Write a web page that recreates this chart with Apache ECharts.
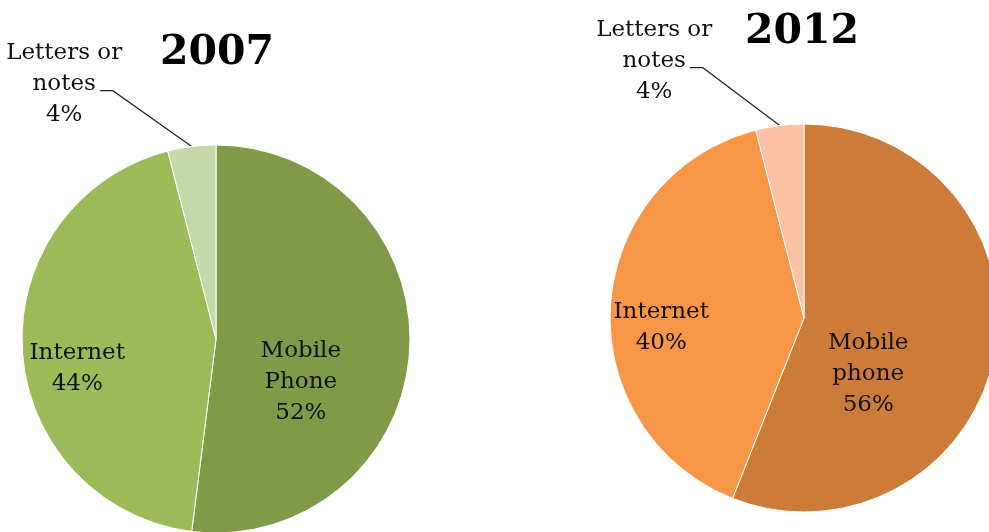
<!DOCTYPE html>
<html>
<head>
<meta charset="utf-8">
<script src="https://cdn.jsdelivr.net/npm/echarts@6/dist/echarts.min.js"></script>
<style>
  html, body { margin: 0; padding: 0; background: #fff; }
  #charts { width: 989px; height: 532px; }
</style>
</head>
<body>
<div id="charts"></div>
<script>
// data
const categories = ['Mobile Phone', 'Internet', 'Letters or notes']
const labels2007 = ['Mobile\nPhone', 'Internet', 'Letters or\nnotes']
const labels2012 = ['Mobile\nphone', 'Internet', 'Letters or\nnotes']
const values2007 = [52, 44, 4]
const values2012 = [56, 40, 4]
const years = ['2007', '2012']

const colors2007 = ['#7F9B48', '#9BBB59', '#C5D8A9']
const colors2012 = ['#CC7B38', '#F79646', '#FAC1A3']

const font = '"DejaVu Serif", "Liberation Serif", serif'
const labelSize = 23

// label nudges, [dx, dy] per slice
const nudge2007 = [[-15, 37], [-39, 23], [-106, -43]]
const nudge2012 = [[-34, 37], [-43, 16], [-104, -45]]

// width of the text line that the leader line points at
const ctx = document.createElement('canvas').getContext('2d')
ctx.font = labelSize + 'px ' + font
const notesWidth = ctx.measureText('notes').width

function buildData(values, names, colors) {
    return values.map((v, i) => ({
        value: v,
        name: names[i],
        itemStyle: { color: colors[i] },
        label: i === 2 ? { position: 'outside' } : { position: 'inside' },
        labelLine: { show: i === 2 }
    }))
}

function pieSeries(values, names, colors, center, nudge) {
    return {
        type: 'pie',
        radius: 194,
        center: center,
        startAngle: 90,
        clockwise: true,
        avoidLabelOverlap: false,
        animation: false,
        itemStyle: { borderColor: '#fff', borderWidth: 1 },
        label: {
            show: true,
            color: '#111',
            fontFamily: font,
            fontSize: labelSize,
            lineHeight: 31,
            align: 'center',
            formatter: p => p.name + '\n' + p.value + '%'
        },
        labelLine: {
            show: true,
            length: 20,
            length2: 14,
            lineStyle: { color: '#262626', width: 1.2 }
        },
        labelLayout: p => {
            const d = nudge[p.dataIndex]
            const o = { dx: d[0], dy: d[1] }
            if (p.dataIndex === 2 && p.labelLinePoints) {
                // centre the outside label and redraw its leader line
                o.align = 'center'
                const r = p.labelRect
                const cx = r.x + r.width + d[0]
                const ly = r.y + r.height / 2 + d[1] + 7
                const right = cx + notesWidth / 2
                o.labelLinePoints = [p.labelLinePoints[0], [right + 17, ly], [right + 4, ly]]
            }
            return o
        },
        emphasis: { disabled: true },
        data: buildData(values, names, colors)
    }
}

const option = {
    title: [
        { text: years[0], left: 212, top: 28, textAlign: 'center',
          textStyle: { fontFamily: font, fontWeight: 'bold', fontSize: 41, color: '#000' } },
        { text: years[1], left: 797, top: 7, textAlign: 'center',
          textStyle: { fontFamily: font, fontWeight: 'bold', fontSize: 41, color: '#000' } }
    ],
    series: [
        pieSeries(values2007, labels2007, colors2007, [216, 339], nudge2007),
        pieSeries(values2012, labels2012, colors2012, [804, 318], nudge2012)
    ]
}

let myCharts = echarts.init(document.getElementById('charts'))
myCharts.setOption(option)
</script>
</body>
</html>
